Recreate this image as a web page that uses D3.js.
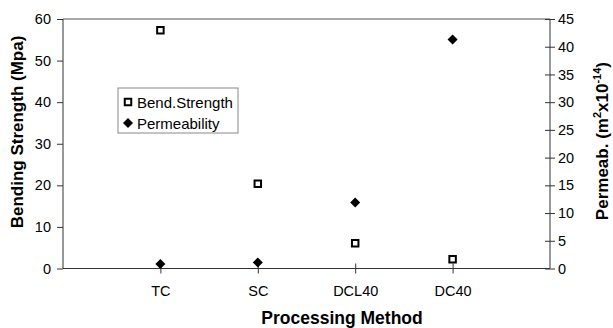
<!DOCTYPE html>
<html>
<head>
<meta charset="utf-8">
<script src="https://cdn.jsdelivr.net/npm/d3@7"></script>
<style>
  html, body { margin: 0; padding: 0; background: #fff; }
  svg { display: block; font-family: "Liberation Sans", Arial, sans-serif; }
</style>
</head>
<body>
<svg id="chart" width="613" height="328"></svg>
<script>
// Processing methods along the x axis
const categories = ["TC", "SC", "DCL40", "DC40"];
// Bending strength (MPa), left axis
const bendStrength = [57.3, 20.4, 6.1, 2.2];
// Permeability (m^2 x 10^-14), right axis
const permeability = [0.8, 1.1, 11.9, 41.3];
const leftTicks = [0, 10, 20, 30, 40, 50, 60];
const rightTicks = [0, 5, 10, 15, 20, 25, 30, 35, 40, 45];

const svg = d3.select("#chart");
const m = { left: 63, right: 550, top: 19, bottom: 268.5 };
const axisColor = "#333";

const x = d3.scaleLinear().domain([0, categories.length + 1]).range([m.left, m.right]);
const yL = d3.scaleLinear().domain([0, 60]).range([m.bottom, m.top]);
const yR = d3.scaleLinear().domain([0, 45]).range([m.bottom, m.top]);

// top frame line
svg.append("line")
  .attr("x1", m.left).attr("x2", m.right)
  .attr("y1", m.top).attr("y2", m.top)
  .attr("stroke", "#555").attr("stroke-width", 1);

// left axis
const gL = svg.append("g").attr("transform", `translate(${m.left},0)`)
  .call(d3.axisLeft(yL).tickValues(leftTicks).tickSize(6).tickPadding(6).tickFormat(d3.format("d")));
// right axis with ticks crossing the line
const gR = svg.append("g").attr("transform", `translate(${m.right},0)`)
  .call(d3.axisRight(yR).tickValues(rightTicks).tickSize(5).tickPadding(3).tickFormat(d3.format("d")));
gR.selectAll(".tick line").attr("x1", -5);
// bottom axis
const gB = svg.append("g").attr("transform", `translate(0,${m.bottom})`)
  .call(d3.axisBottom(x).tickValues(d3.range(1, categories.length + 1)).tickSize(5).tickPadding(12)
    .tickFormat(i => categories[i - 1]));
gB.selectAll(".tick line").attr("y1", -5);

[gL, gR, gB].forEach(g => {
  g.select(".domain").attr("stroke", axisColor).attr("stroke-width", 1);
  g.selectAll(".tick line").attr("stroke", axisColor);
  g.selectAll(".tick text").attr("fill", "#000").style("font-size", "14.5px")
    .style("font-family", "'Liberation Sans', Arial, sans-serif");
});
gB.select(".domain").attr("d", `M${m.left},0H${m.right}`);
gL.select(".domain").attr("d", `M0,${m.top}V${m.bottom}`);
gR.select(".domain").attr("d", `M0,${m.top}V${m.bottom}`);

// axis titles
svg.append("text")
  .attr("transform", `translate(23,132) rotate(-90)`)
  .attr("text-anchor", "middle")
  .style("font-size", "17px").style("font-weight", "bold")
  .text("Bending Strength (Mpa)");

const rt = svg.append("text")
  .attr("transform", `translate(608,62) rotate(-90)`)
  .attr("text-anchor", "end")
  .style("font-size", "17px").style("font-weight", "bold");
rt.append("tspan").text("Permeab. (m");
rt.append("tspan").attr("dy", -7).style("font-size", "11px").text("2");
rt.append("tspan").attr("dy", 7).text("x10");
rt.append("tspan").attr("dy", -7).style("font-size", "11px").text("-14");
rt.append("tspan").attr("dy", 7).text(")");

svg.append("text")
  .attr("x", 342).attr("y", 324)
  .attr("text-anchor", "middle")
  .style("font-size", "17.5px").style("font-weight", "bold")
  .text("Processing Method");

// markers
const square = d3.symbol().type(d3.symbolSquare).size(42);
const diamond = d3.symbol().type(d3.symbolDiamond2).size(64);

svg.append("g").selectAll("path")
  .data(bendStrength)
  .join("path")
  .attr("d", square)
  .attr("transform", (d, i) => `translate(${x(i + 1)},${yL(d)})`)
  .attr("fill", "#fff").attr("stroke", "#000").attr("stroke-width", 2);

svg.append("g").selectAll("path")
  .data(permeability)
  .join("path")
  .attr("d", diamond)
  .attr("transform", (d, i) => `translate(${x(i + 1)},${yR(d)})`)
  .attr("fill", "#000");

// legend
const lg = svg.append("g").attr("transform", "translate(118,88)");
lg.append("rect").attr("width", 120).attr("height", 45)
  .attr("fill", "#fff").attr("stroke", "#888").attr("stroke-width", 1);
lg.append("path").attr("d", square).attr("transform", "translate(10,14)")
  .attr("fill", "#fff").attr("stroke", "#000").attr("stroke-width", 2);
lg.append("text").attr("x", 19).attr("y", 19.5).style("font-size", "15px").text("Bend.Strength");
lg.append("path").attr("d", diamond).attr("transform", "translate(10,35)").attr("fill", "#000");
lg.append("text").attr("x", 19).attr("y", 40.5).style("font-size", "15px").text("Permeability");
</script>
</body>
</html>
